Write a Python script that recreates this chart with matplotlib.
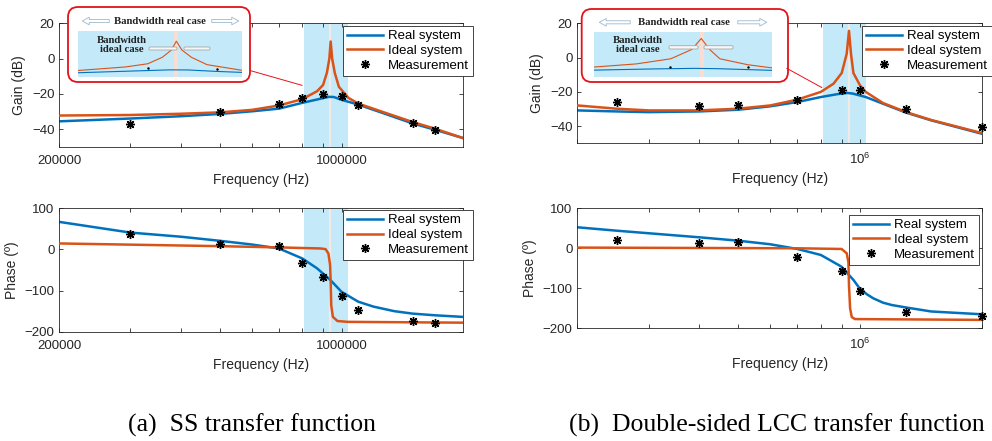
import matplotlib
matplotlib.use('Agg')
import matplotlib.pyplot as plt
from matplotlib.ticker import FixedLocator, NullFormatter, NullLocator
from matplotlib.patches import FancyBboxPatch, FancyArrowPatch, ConnectionPatch

# ---- (a) SS transfer function ----
ss_real_gain_f = [200e3, 300e3, 400e3, 500e3, 600e3, 700e3, 800e3, 870e3, 930e3, 957e3,
                  1.0e6, 1.04e6, 1.1e6, 1.27e6, 1.5e6, 1.7e6, 2.0e6]
ss_real_gain = [-35.6, -34.0, -32.7, -31.4, -29.9, -28.4, -25.1, -23.2, -21.7, -21.8,
                -23.4, -24.5, -26.1, -31.0, -36.8, -40.3, -45.1]
ss_ideal_gain_f = [200e3, 300e3, 400e3, 500e3, 600e3, 700e3, 800e3, 870e3, 900e3, 920e3,
                   933e3, 940e3, 948e3, 962e3, 985e3, 1.04e6, 1.1e6, 1.27e6, 1.5e6, 1.7e6, 2.0e6]
ss_ideal_gain = [-32.3, -32.0, -31.3, -30.5, -29.1, -26.6, -23.0, -18.5, -15.0, -8.0,
                 0.0, 9.7, 0.0, -8.0, -16.0, -22.3, -25.5, -30.4, -36.0, -39.7, -45.1]
ss_real_phase_f = [200e3, 300e3, 400e3, 500e3, 600e3, 700e3, 800e3, 870e3, 940e3, 1.0e6,
                   1.1e6, 1.2e6, 1.35e6, 1.5e6, 1.7e6, 2.0e6]
ss_real_phase = [67, 41, 31, 21, 12, 2.4, -22, -46, -75, -103, -127, -139, -150, -156,
                 -160, -164]
ss_ideal_phase_f = [200e3, 500e3, 700e3, 887e3, 913e3, 928e3, 937e3, 940e3, 943e3, 952e3,
                    977e3, 1.034e6, 2.0e6]
ss_ideal_phase = [14.6, 8, 5, 2.4, 0.8, -10, -38, -79, -136, -164, -174, -176, -178]
ss_meas_f = [300e3, 500e3, 700e3, 800e3, 900e3, 1.0e6, 1.1e6, 1.5e6, 1.7e6]
ss_meas_gain = [-37.1, -30.3, -25.5, -22.6, -20.2, -21.1, -26.3, -36.3, -40.7]
ss_meas_phase = [38, 14, 9, -34, -66, -113, -146, -173, -180]
ss_band = (809e3, 1.039e6)
ss_f0 = 939e3

# ---- (b) Double-sided LCC transfer function ----
lcc_real_gain_f = [200e3, 250e3, 300e3, 400e3, 500e3, 600e3, 700e3, 800e3, 880e3, 930e3,
                   960e3, 1.033e6, 1.14e6, 1.3e6, 1.5e6, 2.0e6]
lcc_real_gain = [-30.8, -31.4, -31.8, -31.4, -30.4, -28.4, -25.9, -23.0, -21.3, -20.6,
                 -21.0, -23.0, -26.9, -32.1, -36.6, -44.4]
lcc_ideal_gain_f = [200e3, 250e3, 300e3, 400e3, 500e3, 600e3, 700e3, 800e3, 860e3, 901e3,
                    927e3, 939e3, 950e3, 963e3, 1.0e6, 1.033e6, 1.14e6, 1.3e6, 1.5e6, 2.0e6]
lcc_ideal_gain = [-27.9, -29.8, -30.8, -30.8, -29.8, -27.9, -24.5, -20.0, -15.2, -9.0,
                  2.3, 15.6, 2.0, -9.0, -16.2, -20.0, -26.5, -31.8, -36.4, -44.0]
lcc_real_phase_f = [200e3, 250e3, 400e3, 500e3, 600e3, 700e3, 800e3, 900e3, 963e3, 1.0e6,
                    1.04e6, 1.078e6, 1.14e6, 1.2e6, 1.3e6, 1.5e6, 2.0e6]
lcc_real_phase = [52.5, 44, 27.5, 19, 10, -1.7, -16.7, -46, -79, -101.7, -115, -125, -136,
                  -142, -148, -158, -165]
lcc_ideal_phase_f = [200e3, 700e3, 900e3, 927e3, 936e3, 939e3, 945e3, 954e3, 972e3, 2.0e6]
lcc_ideal_phase = [1.7, 0, -1.7, -12.5, -35, -92, -150, -172, -177, -179]
lcc_meas_f = [250e3, 400e3, 500e3, 700e3, 900e3, 1.0e6, 1.3e6, 2.0e6]
lcc_meas_gain = [-25.9, -28.0, -27.5, -24.7, -18.7, -19.1, -30.2, -40.5]
lcc_meas_phase = [20.8, 13.3, 16.7, -20.8, -56.7, -106.7, -160, -168.3]
lcc_band = (812e3, 1.033e6)
lcc_f0 = 940e3

labels = ['Real system', 'Ideal system', 'Measurement']
minor_f = [3e5, 4e5, 5e5, 6e5, 7e5, 8e5, 9e5]

BLUE = '#0072BD'
ORANGE = '#D95319'
AXC = '#262626'
SHADE = '#C4EAFA'
CENTRE = '#F1E9E6'
RED = '#E3131B'
STAR = (8, 2, 0)

plt.rcParams['font.family'] = ['Liberation Sans', 'DejaVu Sans']
plt.rcParams['mathtext.default'] = 'regular'

fig = plt.figure(figsize=(9.92, 4.41), dpi=100)


def panel(rect, rf, rv, idf, idv, mf, mv, ylim, yticks, ylabel, band, f0, leg_anchor, sci):
    ax = fig.add_axes(rect)
    if band is not None:
        ax.axvspan(band[0], band[1], color=SHADE, lw=0, zorder=0)
        ax.axvline(f0, color=CENTRE, lw=1.6, zorder=0.5)
    l1, = ax.plot(rf, rv, color=BLUE, lw=1.8, zorder=2)
    l2, = ax.plot(idf, idv, color=ORANGE, lw=1.8, zorder=3)
    l3, = ax.plot(mf, mv, ls='none', marker=STAR, ms=6.5, mew=1.0, color='black',
                  zorder=4, clip_on=False)
    ax.set_xscale('log')
    ax.set_xlim(2e5, 2e6)
    ax.set_ylim(*ylim)
    ax.set_yticks(yticks)
    if sci:
        ax.set_xticks([1e6])
        ax.set_xticklabels(['$10^6$'])
        ax.xaxis.set_minor_locator(FixedLocator([2e5] + minor_f + [2e6]))
    else:
        ax.set_xticks([2e5, 1e6])
        ax.set_xticklabels(['200000', '1000000'])
        ax.xaxis.set_minor_locator(FixedLocator(minor_f))
    ax.xaxis.set_minor_formatter(NullFormatter())
    ax.tick_params(which='both', direction='in', top=True, right=True, length=3,
                   width=0.6, colors=AXC, labelsize=9.5)
    ax.tick_params(axis='x', which='both', pad=6)
    for s in ax.spines.values():
        s.set_color(AXC)
        s.set_linewidth(0.6)
    ax.set_xlabel('Frequency (Hz)', fontsize=10, color=AXC)
    ax.set_ylabel(ylabel, fontsize=10, color=AXC)
    leg = ax.legend([l1, l2, l3], labels, loc='upper right', bbox_to_anchor=leg_anchor,
                    borderaxespad=0, fancybox=False, edgecolor=AXC, framealpha=1,
                    fontsize=9.5, handlelength=2.7, handletextpad=0.4,
                    labelspacing=0.2, borderpad=0.3)
    leg.get_frame().set_linewidth(0.6)
    leg.set_zorder(6)
    return ax


ax_a1 = panel([0.0598, 0.6673, 0.407, 0.2798], ss_real_gain_f, ss_real_gain,
              ss_ideal_gain_f, ss_ideal_gain, ss_meas_f, ss_meas_gain,
              (-50, 20), [-40, -20, 0, 20], 'Gain (dB)', ss_band, ss_f0, (1.025, 0.978), False)
ax_a2 = panel([0.0598, 0.2478, 0.407, 0.2798], ss_real_phase_f, ss_real_phase,
              ss_ideal_phase_f, ss_ideal_phase, ss_meas_f, ss_meas_phase,
              (-200, 100), [-200, -100, 0, 100], 'Phase (º)', ss_band, ss_f0, (1.025, 0.986), False)
ax_b1 = panel([0.582, 0.675, 0.4077, 0.2721], lcc_real_gain_f, lcc_real_gain,
              lcc_ideal_gain_f, lcc_ideal_gain, lcc_meas_f, lcc_meas_gain,
              (-50, 20), [-40, -20, 0, 20], 'Gain (dB)', lcc_band, lcc_f0, (1.025, 0.978), True)
ax_b2 = panel([0.582, 0.2556, 0.4077, 0.2721], lcc_real_phase_f, lcc_real_phase,
              lcc_ideal_phase_f, lcc_ideal_phase, lcc_meas_f, lcc_meas_phase,
              (-200, 100), [-200, -100, 0, 100], 'Phase (º)', None, None, (0.993, 0.944), True)


def zoom_box(frame, inset_rect, ax_main, rf, rv, idf, idv, mf, mv, band, f0, ylim,
             arrow_y, arrows, real_txt_x, ideal_txt, bars, link):
    # frame / arrows / bars are in inches from the lower-left corner
    tr = fig.dpi_scale_trans
    fig.add_artist(FancyBboxPatch(frame[:2], frame[2], frame[3],
                                  boxstyle='round,pad=0,rounding_size=0.1', transform=tr,
                                  fc='white', ec=RED, lw=1.3, zorder=2))
    ai = fig.add_axes(inset_rect)
    ai.set_zorder(3)
    ai.set_facecolor(SHADE)
    for s in ai.spines.values():
        s.set_visible(False)
    ai.axvline(f0, color='#F8DDD3', lw=3)
    ai.plot(rf, rv, color=BLUE, lw=0.8)
    ai.plot(idf, idv, color=ORANGE, lw=0.8)
    ai.plot(mf, mv, ls='none', marker='.', ms=1.5, color='black')
    ai.set_xscale('log')
    ai.set_xlim(*band)
    ai.set_ylim(*ylim)
    ai.xaxis.set_major_locator(NullLocator())
    ai.xaxis.set_minor_locator(NullLocator())
    ai.yaxis.set_major_locator(NullLocator())
    for x1, x2 in arrows:
        fig.add_artist(FancyArrowPatch((x1, arrow_y), (x2, arrow_y), transform=tr,
                                       arrowstyle='simple,head_length=0.5,head_width=0.55,tail_width=0.22',
                                       mutation_scale=10, fc='white', ec='#9DB9CC', lw=0.6,
                                       zorder=5))
    fig.text(real_txt_x, arrow_y, 'Bandwidth real case', transform=tr, ha='center',
             va='center', fontsize=7.7, fontweight='bold', color='#202020',
             family=['Liberation Serif'], zorder=6)
    fig.text(ideal_txt[0], ideal_txt[1], 'Bandwidth\nideal case', transform=tr,
             ha='center', va='center', multialignment='center', linespacing=1.05,
             fontsize=7.7, fontweight='bold', color='#202020',
             family=['Liberation Serif'], zorder=6)
    for bx, by, bw, bh in bars:
        fig.add_artist(FancyBboxPatch((bx, by), bw, bh,
                                      boxstyle='round,pad=0,rounding_size=0.012', transform=tr,
                                      fc='#F6F6F6', ec='#A8A8A8', lw=0.6, zorder=5))
    con = ConnectionPatch(xyA=link[0], coordsA=tr, xyB=link[1], coordsB=ax_main.transData,
                          color=RED, lw=0.7, zorder=2)
    fig.add_artist(con)


zoom_box((0.68, 3.59, 1.82, 0.75), [0.0786, 0.8254, 0.1653, 0.1043], ax_a1,
         ss_real_gain_f, ss_real_gain, ss_ideal_gain_f, ss_ideal_gain,
         ss_meas_f, ss_meas_gain, ss_band, ss_f0, (-29.5, 20.8),
         4.20, [(1.12, 0.795), (2.09, 2.415)], 1.60, (1.217, 3.963),
         [(1.49, 3.91, 0.28, 0.03), (1.84, 3.91, 0.26, 0.03)],
         ((2.507, 3.703), (799e3, -15.2)))
zoom_box((5.817, 3.59, 2.063, 0.73), [0.5988, 0.8261, 0.1791, 0.1007], ax_b1,
         lcc_real_gain_f, lcc_real_gain, lcc_ideal_gain_f, lcc_ideal_gain,
         lcc_meas_f, lcc_meas_gain, lcc_band, lcc_f0, (-30.7, 23.1),
         4.187, [(6.33, 5.965), (7.35, 7.695)], 6.84, (6.375, 3.96),
         [(6.69, 3.92, 0.29, 0.033), (7.04, 3.92, 0.29, 0.033)],
         ((7.867, 3.727), (805e3, -17.5)))

fig.text(0.2545, 0.021, '(a)  SS transfer function', ha='center', va='baseline',
         fontsize=18.5, family=['Liberation Serif'])
fig.text(0.783, 0.021, '(b)  Double-sided LCC transfer function', ha='center',
         va='baseline', fontsize=18.5, family=['Liberation Serif'])

fig.savefig('out.png', dpi=100)
